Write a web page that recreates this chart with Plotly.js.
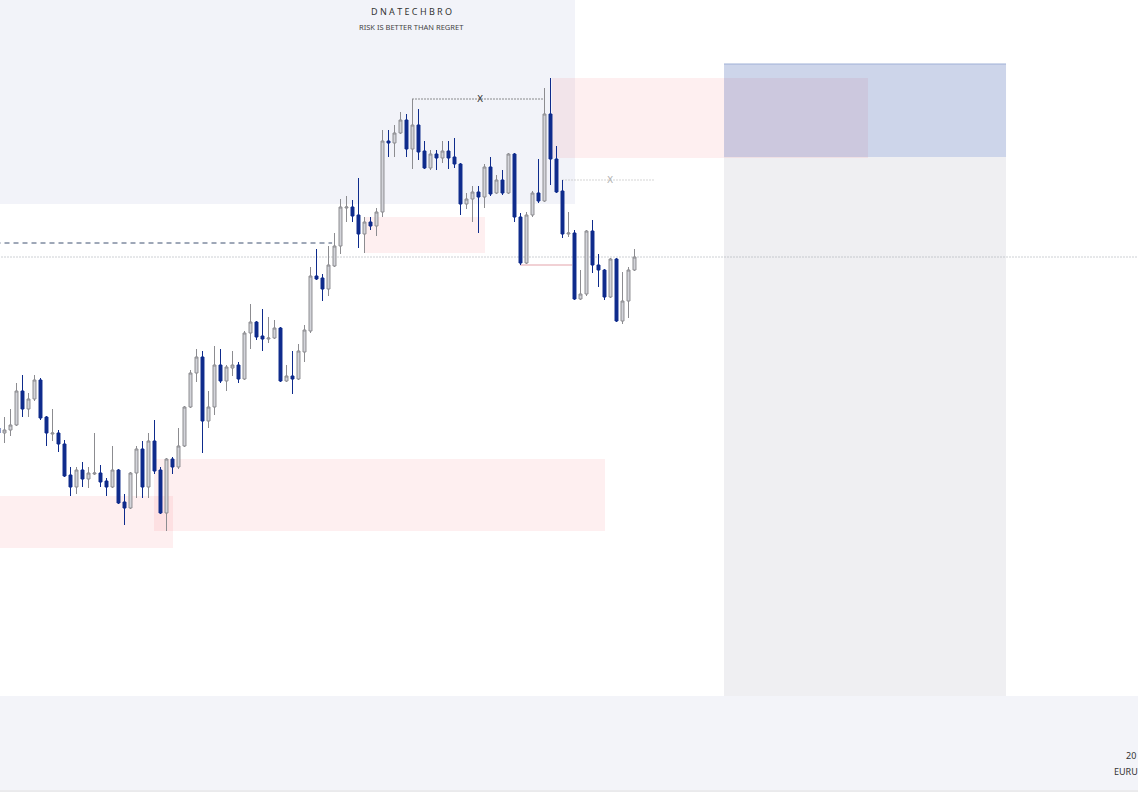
<!DOCTYPE html>
<html><head><meta charset="utf-8">
<script src="https://cdn.plot.ly/plotly-3.0.1.min.js"></script>
<style>html,body{margin:0;padding:0;background:#fff;overflow:hidden}#chart{width:1138px;height:799px}</style>
</head><body><div id="chart"></div>
<script>
// ---- candle data (EURUSD) ----
const openP = [1.0672,1.0667,1.0670,1.0675,1.0709,1.0691,1.0701,1.0720,1.0683,1.0666,
1.0667,1.0656,1.0625,1.0613,1.0630,1.0621,1.0626,1.0627,1.0619,1.0613,
1.0630,1.0598,1.0592,1.0627,1.0651,1.0613,1.0659,1.0630,1.0587,1.0641,
1.0633,1.0654,1.0693,1.0727,1.0743,1.0679,1.0693,1.0735,1.0719,1.0732,
1.0735,1.0721,1.0767,1.0778,1.0764,1.0761,1.0762,1.0772,1.0719,1.0724,
1.0721,1.0748,1.0769,1.0824,1.0822,1.0811,1.0834,1.0854,1.0892,1.0893,
1.0885,1.0866,1.0878,1.0874,1.0888,1.0959,1.0957,1.0967,1.0980,1.0951,
1.0975,1.0949,1.0932,1.0946,1.0942,1.0949,1.0943,1.0936,1.0896,1.0901,
1.0908,1.0903,1.0933,1.0907,1.0920,1.0907,1.0946,1.0883,1.0837,1.0885,
1.0907,1.0899,1.0986,1.0941,1.0909,1.0866,1.0867,1.0801,1.0806,1.0869,
1.0835,1.0830,1.0803,1.0841,1.0779,1.0799,1.0830];
const highP = [1.0674,1.0683,1.0691,1.0717,1.0725,1.0707,1.0725,1.0722,1.0684,1.0691,
1.0670,1.0660,1.0633,1.0633,1.0638,1.0633,1.0667,1.0635,1.0622,1.0654,
1.0631,1.0606,1.0628,1.0654,1.0659,1.0667,1.0680,1.0633,1.0642,1.0643,
1.0672,1.0694,1.0730,1.0751,1.0749,1.0709,1.0754,1.0751,1.0735,1.0749,
1.0738,1.0769,1.0796,1.0779,1.0791,1.0783,1.0780,1.0773,1.0735,1.0749,
1.0756,1.0775,1.0833,1.0851,1.0826,1.0854,1.0867,1.0901,1.0904,1.0900,
1.0922,1.0883,1.0883,1.0892,1.0970,1.0970,1.0975,1.0988,1.0986,1.1001,
1.0991,1.0959,1.0950,1.0950,1.0959,1.0959,1.0962,1.0937,1.0907,1.0914,
1.0914,1.0936,1.0943,1.0925,1.0930,1.0947,1.0947,1.0887,1.0888,1.0909,
1.0941,1.1012,1.1022,1.0954,1.0920,1.0888,1.0870,1.0830,1.0870,1.0880,
1.0846,1.0831,1.0842,1.0842,1.0828,1.0833,1.0851];
const lowP = [1.0664,1.0657,1.0664,1.0674,1.0683,1.0683,1.0699,1.0680,1.0654,1.0659,
1.0648,1.0623,1.0604,1.0606,1.0613,1.0612,1.0625,1.0613,1.0604,1.0612,
1.0596,1.0575,1.0591,1.0602,1.0602,1.0602,1.0626,1.0586,1.0569,1.0626,
1.0631,1.0653,1.0692,1.0718,1.0647,1.0672,1.0685,1.0717,1.0709,1.0724,
1.0717,1.0720,1.0751,1.0760,1.0749,1.0757,1.0761,1.0718,1.0718,1.0706,
1.0720,1.0738,1.0767,1.0820,1.0799,1.0804,1.0833,1.0846,1.0878,1.0878,
1.0852,1.0847,1.0870,1.0864,1.0883,1.0943,1.0943,1.0966,1.0943,1.0931,
1.0940,1.0931,1.0930,1.0930,1.0937,1.0931,1.0932,1.0885,1.0891,1.0878,
1.0867,1.0892,1.0904,1.0906,1.0905,1.0906,1.0878,1.0835,1.0836,1.0883,
1.0897,1.0898,1.0915,1.0907,1.0862,1.0863,1.0800,1.0800,1.0804,1.0827,
1.0813,1.0800,1.0802,1.0778,1.0776,1.0782,1.0829];
const closeP = [1.0667,1.0670,1.0675,1.0709,1.0691,1.0701,1.0720,1.0682,1.0667,1.0667,
1.0656,1.0624,1.0613,1.0630,1.0621,1.0627,1.0627,1.0618,1.0613,1.0630,
1.0597,1.0592,1.0627,1.0651,1.0613,1.0659,1.0629,1.0587,1.0641,1.0633,
1.0654,1.0693,1.0727,1.0743,1.0679,1.0693,1.0735,1.0719,1.0733,1.0735,
1.0721,1.0767,1.0778,1.0763,1.0761,1.0762,1.0772,1.0719,1.0724,1.0721,
1.0749,1.0770,1.0824,1.0821,1.0811,1.0835,1.0854,1.0893,1.0893,1.0884,
1.0866,1.0878,1.0874,1.0888,1.0959,1.0957,1.0967,1.0980,1.0951,1.0975,
1.0948,1.0932,1.0946,1.0942,1.0949,1.0942,1.0936,1.0896,1.0901,1.0908,
1.0903,1.0933,1.0906,1.0920,1.0907,1.0946,1.0883,1.0837,1.0885,1.0907,
1.0899,1.0986,1.0941,1.0908,1.0866,1.0867,1.0801,1.0806,1.0869,1.0835,
1.0830,1.0803,1.0841,1.0779,1.0799,1.0830,1.0843];
const bars = openP.map((_, i) => i);

// ---- zones (bar index span, price span) ----
const pdZoneStart = [-2], pdZoneEnd = [96.08], pdZoneLow = [1.0896], pdZoneHigh = [1.12];
const obStart = [-2, 25.92, 60.92, 92.25];
const obEnd   = [29.08, 101.08, 81.08, 144.92];
const obLow   = [1.0552, 1.0569, 1.0847, 1.0942];
const obHigh  = [1.0604, 1.0641, 1.0883, 1.1022];
const posStart = 120.92, posEnd = 167.92, posEntry = 1.0943, posTarget = 1.1036, posStop = 1.03;

// ---- levels ----
const eqlPrice = 1.0857, eqlEnd = 55.6;
const lastPrice = closeP[closeP.length - 1];
const sweepHigh = 1.1001, sweepStart = 69, sweepEnd = 91, sweepMark = 80.25;
const sweepHigh2 = 1.0920, sweep2Start = 94, sweep2End = 109.4, sweep2Mark = 101.9;
const lowLine = 1.0835, lowLineStart = 86.9, lowLineEnd = 95.6;

const shapes = [];
shapes.push({type:'rect', xref:'x', yref:'y', x0:pdZoneStart[0], x1:pdZoneEnd[0], y0:pdZoneLow[0], y1:pdZoneHigh[0],
  fillcolor:'#f2f3f9', line:{width:0}, layer:'below'});
shapes.push({type:'rect', xref:'x', yref:'y', x0:posStart, x1:posEnd, y0:posStop, y1:posEntry,
  fillcolor:'#efeff2', line:{width:0}, layer:'below'});
for (let i = 0; i < obStart.length; i++) {
  shapes.push({type:'rect', xref:'x', yref:'y', x0:obStart[i], x1:obEnd[i], y0:obLow[i], y1:obHigh[i],
    fillcolor:'rgba(242,54,69,0.08)', line:{width:0}, layer:'below'});
}
shapes.push({type:'rect', xref:'x', yref:'y', x0:posStart, x1:posEnd, y0:posEntry, y1:posTarget,
  fillcolor:'rgba(33,68,162,0.225)', line:{width:0}, layer:'below'});
shapes.push({type:'line', xref:'x', yref:'y', x0:posStart, x1:posEnd, y0:posTarget, y1:posTarget,
  line:{color:'#9fb0d6', width:1}, layer:'below'});
shapes.push({type:'line', xref:'x', yref:'y', x0:-2, x1:eqlEnd, y0:eqlPrice, y1:eqlPrice,
  line:{color:'#3f5070', width:1, dash:'5px,4px'}, layer:'below'});
shapes.push({type:'line', xref:'x', yref:'y', x0:-2, x1:200, y0:lastPrice, y1:lastPrice,
  line:{color:'#9aa0a8', width:1, dash:'1px,2px'}, layer:'below'});
shapes.push({type:'line', xref:'x', yref:'y', x0:sweepStart, x1:sweepEnd, y0:sweepHigh, y1:sweepHigh,
  line:{color:'#222', width:1, dash:'1px,2px'}, layer:'below'});
shapes.push({type:'line', xref:'x', yref:'y', x0:sweep2Start, x1:sweep2End, y0:sweepHigh2, y1:sweepHigh2,
  line:{color:'#aaaaaa', width:1, dash:'1px,2px'}, layer:'below'});
shapes.push({type:'line', xref:'x', yref:'y', x0:lowLineStart, x1:lowLineEnd, y0:lowLine, y1:lowLine,
  line:{color:'#e3a3aa', width:1}, layer:'below'});
// bottom panel strip
shapes.push({type:'rect', xref:'paper', yref:'paper', x0:0, x1:1, y0:-0.135, y1:-0.2, fillcolor:'#ffffff', line:{width:0}, layer:'above'});
shapes.push({type:'line', xref:'paper', yref:'paper', x0:0, x1:1, y0:-0.1365, y1:-0.1365, line:{color:'#d6d6da', width:1}, layer:'above'});

const trace = {
  type:'candlestick', x:bars, open:openP, high:highP, low:lowP, close:closeP,
  increasing:{line:{color:'#8c8c90', width:1}, fillcolor:'#d3d4da'},
  decreasing:{line:{color:'#0e2b8c', width:1}, fillcolor:'#0e2b8c'},
  width:0.76, whiskerwidth:0, hoverinfo:'skip', showlegend:false
};

const annotations = [
  {xref:'paper', yref:'paper', x:0.3612, y:0.9828, xanchor:'center', yanchor:'middle', text:'D N A T E C H B R O', showarrow:false,
   font:{family:'Noto Sans, DejaVu Sans, sans-serif', size:9, color:'#333'}},
  {xref:'paper', yref:'paper', x:0.3612, y:0.9612, xanchor:'center', yanchor:'middle', text:'RISK IS BETTER THAN REGRET', showarrow:false,
   font:{family:'Noto Sans, DejaVu Sans, sans-serif', size:7.5, color:'#444'}},
  {xref:'x', yref:'y', x:sweepMark, y:sweepHigh, xanchor:'center', yanchor:'middle', text:'X', showarrow:false,
   font:{family:'DejaVu Sans, sans-serif', size:9, color:'#333'}},
  {xref:'x', yref:'y', x:sweep2Mark, y:sweepHigh2, xanchor:'center', yanchor:'middle', text:'X', showarrow:false,
   font:{family:'DejaVu Sans, sans-serif', size:9, color:'#b0b0b0'}},
  {xref:'paper', yref:'paper', x:0.9877, y:-0.0848, xanchor:'left', yanchor:'middle', text:'20', showarrow:false,
   font:{family:'Noto Sans, sans-serif', size:9, color:'#333'}},
  {xref:'paper', yref:'paper', x:0.9775, y:-0.109, xanchor:'left', yanchor:'middle', text:'EURU', showarrow:false,
   font:{family:'Noto Sans, sans-serif', size:9, color:'#333'}}
];

const layout = {
  width:1138, height:799,
  margin:{l:0, r:0, t:0, b:103, pad:0},
  paper_bgcolor:'#f3f4f9', plot_bgcolor:'#ffffff',
  xaxis:{range:[0.25, 189.9167], visible:false, showgrid:false, zeroline:false, rangeslider:{visible:false}, fixedrange:true},
  yaxis:{range:[1.0404, 1.1100], visible:false, showgrid:false, zeroline:false, fixedrange:true},
  shapes:shapes, annotations:annotations, showlegend:false, dragmode:false
};

Plotly.newPlot('chart', [trace], layout, {staticPlot:true, displayModeBar:false});
</script></body></html>
